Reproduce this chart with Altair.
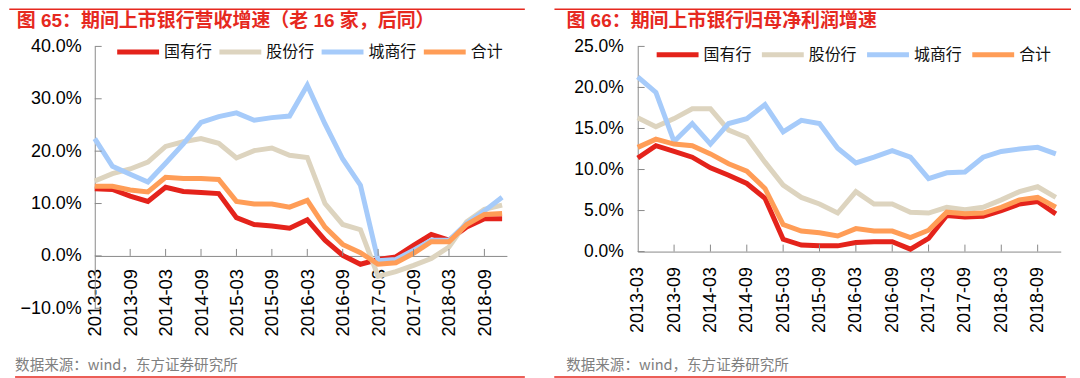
import json
import altair as alt
import pandas as pd

# ---------------- data ----------------
quarters = [
    "2013-03", "2013-06", "2013-09", "2013-12",
    "2014-03", "2014-06", "2014-09", "2014-12",
    "2015-03", "2015-06", "2015-09", "2015-12",
    "2016-03", "2016-06", "2016-09", "2016-12",
    "2017-03", "2017-06", "2017-09", "2017-12",
    "2018-03", "2018-06", "2018-09", "2018-12",
]
tick_index = list(range(0, 23, 2))  # every other quarter is labelled

series_names = ["国有行", "股份行", "城商行", "合计"]
series_colors = ["#E4231B", "#DDD4BF", "#A6CBFA", "#FF9D57"]

# 图65 营收增速 (%)
rev_state = [12.8, 12.7, 11.4, 10.4, 13.1, 12.3, 12.1, 11.9, 7.3, 6.0, 5.7, 5.3,
             6.9, 3.0, 0.1, -1.6, -0.7, -0.2, 2.0, 4.1, 3.0, 5.5, 7.1, 7.1]
rev_joint = [14.3, 15.7, 16.6, 17.9, 20.9, 21.8, 22.4, 21.5, 18.7, 20.1, 20.6, 19.2,
             18.8, 10.0, 6.0, 5.0, -3.9, -3.0, -1.8, -0.5, 1.7, 6.5, 8.9, 9.7]
rev_city = [22.4, 17.1, 15.6, 14.1, 17.7, 21.4, 25.5, 26.6, 27.3, 25.9, 26.4, 26.7,
            32.6, 25.2, 18.5, 13.5, -0.9, -0.7, 1.1, 3.0, 3.0, 6.2, 8.6, 11.2]
rev_total = [13.3, 13.3, 12.6, 12.2, 15.0, 14.8, 14.8, 14.6, 10.4, 9.9, 9.9, 9.3,
             10.6, 5.5, 2.2, 0.6, -1.6, -1.3, 0.5, 2.7, 2.7, 6.0, 7.9, 8.1]

# 图66 归母净利润增速 (%)
np_state = [11.4, 12.9, 12.2, 11.5, 10.2, 9.3, 8.3, 6.5, 1.5, 0.8, 0.7, 0.7,
            1.1, 1.2, 1.2, 0.3, 1.6, 4.4, 4.2, 4.3, 5.0, 5.8, 6.1, 4.6]
np_joint = [16.3, 15.2, 16.2, 17.4, 17.4, 14.8, 13.9, 10.9, 8.1, 6.6, 5.8, 4.7,
            7.3, 5.8, 5.8, 4.8, 4.7, 5.4, 5.1, 5.4, 6.3, 7.3, 7.9, 6.6]
np_city = [21.3, 19.4, 13.4, 15.6, 13.1, 15.6, 16.2, 17.9, 14.6, 16.0, 15.6, 12.6,
           10.8, 11.5, 12.3, 11.5, 8.9, 9.6, 9.7, 11.5, 12.2, 12.5, 12.7, 11.9]
np_total = [12.7, 13.7, 13.1, 12.9, 11.9, 10.7, 9.8, 7.7, 3.3, 2.5, 2.3, 1.9,
            2.8, 2.5, 2.5, 1.7, 2.6, 4.8, 4.6, 4.7, 5.4, 6.3, 6.6, 5.4]

left_title = "图 65：期间上市银行营收增速（老 16 家，后同）"
right_title = "图 66：期间上市银行归母净利润增速"
source_text = "数据来源：wind，东方证券研究所"

left_yticks = [-10, 0, 10, 20, 30, 40]
right_yticks = [0, 5, 10, 15, 20, 25]

# ---------------- style ----------------
RED = "#E6291F"
AXIS_GREY = "#8A8A8A"
CJK = "Noto Sans CJK SC"
LATIN = "Liberation Sans"
TITLE_FONT = "Liberation Sans, Noto Sans CJK SC"

label_expr = json.dumps(quarters) + "[datum.value]"


def long_frame(cols):
    rows = []
    for name, vals in zip(series_names, cols):
        for i, v in enumerate(vals):
            rows.append({"idx": i, "series": name, "value": v})
    return pd.DataFrame(rows)


def panel(cols, ydomain, yticks, w, h, x_offset, xlab_size, xlab_pad,
          ylab_size, ylab_pad, leg_x, leg_y, leg_pad, tick_dx, tick_dy,
          title, deco):
    df = long_frame(cols)
    xscale = alt.Scale(domain=[0, 23.27], nice=False, zero=False)
    yscale = alt.Scale(domain=ydomain, nice=False, zero=False)
    color = alt.Color(
        "series:N",
        scale=alt.Scale(domain=series_names, range=series_colors),
        legend=alt.Legend(
            title=None, orient="none", legendX=leg_x, legendY=leg_y,
            direction="horizontal", columns=4, symbolType="stroke",
            symbolSize=1764, symbolStrokeWidth=5, labelFont=CJK,
            labelFontSize=16, labelColor="#111111", labelOffset=2.5,
            columnPadding=leg_pad, padding=0, labelLimit=200,
        ),
    )
    x_axis = alt.Axis(
        values=tick_index, labelExpr=label_expr, labelAngle=270,
        labelAlign="right", labelBaseline="middle", labelFont=LATIN,
        labelFontSize=xlab_size, labelColor="#000000", labelPadding=xlab_pad,
        ticks=False, tickSize=0, grid=False, domainColor=AXIS_GREY,
        domainWidth=1, offset=x_offset, title=None, labelOverlap=False,
    )
    y_axis = alt.Axis(
        values=yticks, labelExpr="format(datum.value, '.1f') + '%'",
        labelFont=LATIN, labelFontSize=ylab_size, labelColor="#000000",
        labelPadding=ylab_pad, ticks=False, tickSize=0, grid=False,
        domainColor=AXIS_GREY, domainWidth=1, title=None,
    )
    X = alt.X("idx:Q", scale=xscale, axis=x_axis)
    Y = alt.Y("value:Q", scale=yscale, axis=y_axis)

    layers = []
    for name in series_names:
        layers.append(
            alt.Chart(df).transform_filter(alt.datum.series == name)
            .mark_line(strokeWidth=5)
            .encode(x=X, y=Y, color=color)
        )

    # inward tick marks (x ticks point up from the zero line, y ticks point right)
    xt = pd.DataFrame({"idx": tick_index[1:]})
    xt["value"] = 0.0
    xt["value2"] = tick_dy
    layers.append(
        alt.Chart(xt).mark_rule(color=AXIS_GREY, strokeWidth=1)
        .encode(x=X, y=Y, y2="value2:Q")
    )
    yt = pd.DataFrame({"value": yticks})
    yt["idx"] = 0.0
    yt["idx2"] = tick_dx
    layers.append(
        alt.Chart(yt).mark_rule(color=AXIS_GREY, strokeWidth=1)
        .encode(x=X, x2="idx2:Q", y=Y)
    )

    one = pd.DataFrame({"k": [0]})
    (tl_x1, tl_x2, tl_y, t_x, t_y, s_x, s_y, bl_x1, bl_x2, bl_y) = deco
    layers.append(
        alt.Chart(one).mark_rule(color=RED, strokeWidth=1.5).encode(
            x=alt.value(tl_x1), x2=alt.value(tl_x2), y=alt.value(tl_y))
    )
    layers.append(
        alt.Chart(one).mark_text(
            text=title, align="left", baseline="alphabetic", font=TITLE_FONT,
            fontSize=19, fontWeight="bold", color=RED,
        ).encode(x=alt.value(t_x), y=alt.value(t_y))
    )
    layers.append(
        alt.Chart(one).mark_text(
            text=source_text, align="left", baseline="alphabetic", font=CJK,
            fontSize=14.6, color="#808080",
        ).encode(x=alt.value(s_x), y=alt.value(s_y))
    )
    layers.append(
        alt.Chart(one).mark_rule(color=RED, strokeWidth=1.5).encode(
            x=alt.value(bl_x1), x2=alt.value(bl_x2), y=alt.value(bl_y))
    )
    return alt.layer(*layers).properties(width=w, height=h)


left = panel(
    [rev_state, rev_joint, rev_city, rev_total], [-10, 40], left_yticks,
    w=413.3, h=262.6, x_offset=-52.5, xlab_size=18.5, xlab_pad=12.5,
    ylab_size=18, ylab_pad=13.5, leg_x=20, leg_y=-18.2, leg_pad=-3.5,
    tick_dx=0.39, tick_dy=1.33, title=left_title,
    deco=(-85.7, 431.3, -37.2, -78.2, -19.7, -79.9, 324.2, -79.9, 431.3, 331.6),
)
right = panel(
    [np_state, np_joint, np_city, np_total], [0, 25], right_yticks,
    w=424.2, h=205.75, x_offset=0, xlab_size=18, xlab_pad=15,
    ylab_size=17.5, ylab_pad=14.5, leg_x=16.5, leg_y=-15.3, leg_pad=-0.5,
    tick_dx=0.38, tick_dy=0.85, title=right_title,
    deco=(-83.5, 434.5, -37.25, -71.5, -19.75, -71.7, 324.15, -83.7, 429.3, 331.55),
)

chart = (
    alt.hconcat(left, right, spacing=130.5, bounds="flush")
    .resolve_scale(x="independent", y="independent", color="independent")
    .resolve_legend(color="independent")
    .resolve_axis(x="independent", y="independent")
    .properties(padding=0, background="white")
    .configure_view(stroke=None)
)

chart.save("out.html", embed_options={"renderer": "svg", "actions": False})
